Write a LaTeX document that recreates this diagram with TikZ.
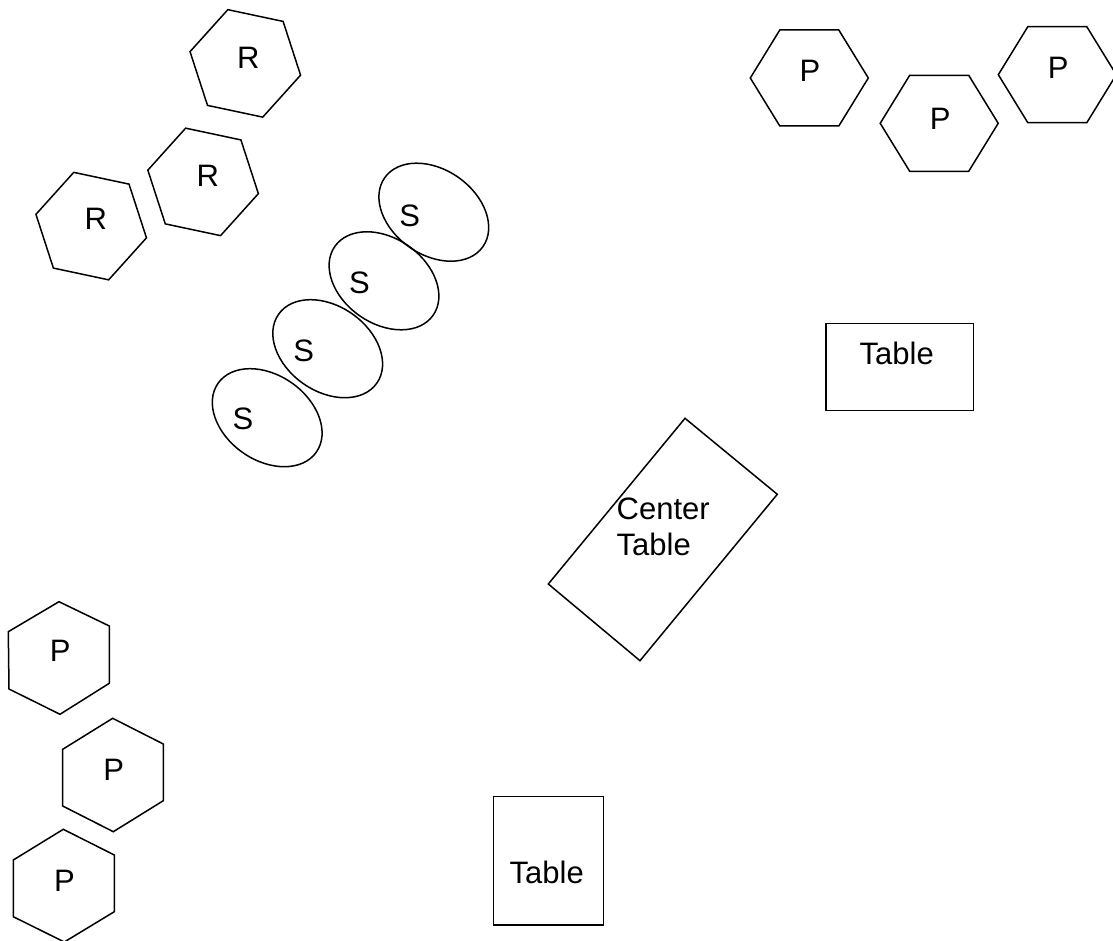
\documentclass[tikz,border=0pt]{standalone}
\usepackage{fontspec}
\setmainfont{Liberation Sans}
\begin{document}
\begin{tikzpicture}[x=1pt,y=-1pt,
  shapeline/.style={draw=black,line width=1.5pt,line join=miter},
  lbl/.style={inner sep=0pt,font=\fontsize{31}{35.7}\selectfont}]
\useasboundingbox (0,0) rectangle (1113,941);
\fill[white] (0,0) rectangle (1113,941);
% R hexagons (rotated)
\foreach \cx/\cy in {245.3/63.4, 203.1/181.9, 91.2/226.1}
  \draw[shapeline, shift={(\cx,\cy)}] (12:56.5) -- (72:56.5) -- (132:56.5) -- (192:56.5) -- (252:56.5) -- (312:56.5) -- cycle;
\node[lbl] (r1) at (248.3,57.5) {R};
\node[lbl] (r2) at (207.8,175.5) {R};
\node[lbl] (r3) at (95.7,218.7) {R};
% P hexagons top right (flat top)
\foreach \cx/\cy in {809.3/78, 939.2/123.3, 1057.3/74.7}
  \draw[shapeline, shift={(\cx,\cy)}] (-59,0) -- (-29.5,-48) -- (29.5,-48) -- (59,0) -- (29.5,48) -- (-29.5,48) -- cycle;
\node[lbl] (p1) at (810,71.3) {P};
\node[lbl] (p2) at (940.3,118.7) {P};
\node[lbl] (p3) at (1058.3,68) {P};
% P hexagons bottom left
\draw[shapeline] (59,601.7) -- (109.3,626) -- (109.3,683.3) -- (60,714.3) -- (9,689) -- (8.3,631.7) -- cycle;
\draw[shapeline] (112.7,718.3) -- (163.3,744) -- (163.3,800.7) -- (113.3,831.7) -- (62.7,806) -- (62.7,749.3) -- cycle;
\draw[shapeline] (63.3,829.3) -- (114.3,855) -- (114.3,911.7) -- (64.3,942) -- (13.3,916.7) -- (13.3,860) -- cycle;
\node[lbl] (p4) at (60.3,651.3) {P};
\node[lbl] (p5) at (113.8,770) {P};
\node[lbl] (p6) at (64.5,880.5) {P};
% S ellipses
\foreach \cx/\cy in {433.8/212.2, 384/280.8, 327.7/348.7, 267.2/417.7}
  \draw[shapeline, rotate around={-35:(\cx,\cy)}] (\cx,\cy) ellipse [x radius=60pt, y radius=42.6pt];
\node[lbl] (s1) at (409.7,215.8) {S};
\node[lbl] (s2) at (359.5,283) {S};
\node[lbl] (s3) at (303.8,350.8) {S};
\node[lbl] (s4) at (243,418.8) {S};
% Center table
\draw[shapeline] (685,418.3) -- (777.3,494.3) -- (640,660.7) -- (548.3,584) -- cycle;
\node[lbl, align=left] (ct) at (663.2,527) {Center\\Table};
% Tables
\draw[shapeline] (826,323.3) rectangle (973.3,410.7);
\node[lbl] (t1) at (896.7,353.3) {Table};
\draw[shapeline] (493.3,796.7) rectangle (603.3,925);
\node[lbl] (t2) at (546.7,872) {Table};
\end{tikzpicture}
\end{document}
